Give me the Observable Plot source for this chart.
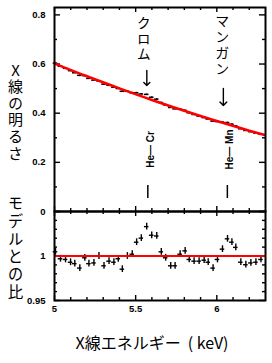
<!DOCTYPE html>
<html><head><meta charset="utf-8">
<script src="https://cdn.jsdelivr.net/npm/d3@7"></script>
<script src="https://cdn.jsdelivr.net/npm/@observablehq/plot@0.6"></script>
<style>
html,body{margin:0;padding:0;background:#fff;}
#wrap{position:relative;width:272px;height:363px;overflow:hidden;background:#fff;}
#top,#bot{position:absolute;left:0;}
#top{top:0px;} #bot{top:190px;}
</style></head><body><div id="wrap"><div id="bot"></div><div id="top"></div></div>
<script>
// ---- data ----
const energy = [5.006,5.037,5.068,5.099,5.125,5.156,5.187,5.212,5.243,5.274,5.305,5.336,5.366,5.393,5.418,5.449,5.479,5.506,5.535,5.568,5.599,5.630,5.658,5.685,5.716,5.743,5.774,5.805,5.830,5.860,5.891,5.922,5.947,5.977,6.004,6.035,6.066,6.093,6.117,6.148,6.179,6.210,6.241,6.272];
const brightness = [.6035,.5909,.5826,.5730,.5644,.5539,.5528,.5416,.5346,.5313,.5181,.5135,.5056,.5003,.4891,.4890,.4829,.4829,.4782,.4764,.4647,.4571,.4430,.4339,.4233,.4174,.4161,.4111,.4017,.3947,.3882,.3822,.3762,.3677,.3659,.3637,.3617,.3550,.3482,.3366,.3298,.3246,.3191,.3143];
const ratio = [1.0047,.9969,.9961,.9930,.9914,.9864,.9980,.9914,.9922,1.0000,.9890,.9942,.9930,.9969,.9852,1.0000,1.0020,1.0155,1.0201,1.0330,1.0233,1.0225,1.0047,.9980,.9890,.9890,1.0020,1.0058,.9961,.9942,.9942,.9953,.9930,.9864,.9961,1.0077,1.0193,1.0155,1.0097,.9930,.9902,.9922,.9930,.9961];
const ratioErr = 0.0038;
const brightErr = 0.002;
const binHalf = 0.014;
const modelEnergy = [5.0,5.2,5.4,5.6,5.8,6.0,6.2,6.29];
const modelBrightness = [.602,.550,.501,.454,.410,.368,.329,.312];
const modelRatio = [1];
const lineEnergy = [5.575, 6.065];
const lineName = ["クロム","マンガン"];
const lineIon = ["He— Cr","He— Mn"];
const topYTicks = [0,0.2,0.4,0.6,0.8];
const topYLabels = ["0","0.2","0.4","0.6","0.8"];
const topYMinor = [0.1,0.3,0.5,0.7];
const botYTicks = [0.95,1,1.05];
const botYLabelVals = [0.95,1];
const botYLabels = ["0.95","1"];
const botYMinor = [0.96,0.97,0.98,0.99,1.01,1.02,1.03,1.04];
const xTicks = [5,5.5,6];
const xLabels = ["5","5.5","6"];
const xMinor = [5.1,5.2,5.3,5.4,5.6,5.7,5.8,5.9,6.1,6.2];
const yTitleTop = "X線の明るさ";
const yTitleBot = "モデルとの比";
const xTitle = "X線エネルギー  ( keV)";

const pts = energy.map((e,i)=>({e, b: brightness[i], r: ratio[i]}));
const model = modelEnergy.map((e,i)=>({e, b: modelBrightness[i]}));

const W = 272, ML = 54, MR = 7;
const FW = W - ML - MR;
const FONT = "Liberation Sans, Arial, Helvetica, sans-serif";
const JP = "Noto Sans CJK JP, sans-serif";
const tickStyle = {stroke: "black", strokeWidth: 1.4};
const lab = {fontFamily: FONT, fontWeight: "bold", fontSize: 9.5, fill: "black"};

// vertical (tategaki) text: letter spacing per label
const verticalSpacing = new Map([[lineName[0], 1.8], [lineName[1], 2.2], [yTitleTop, 1.6], [yTitleBot, 2.2]]);
function verticalize(svg) {
  svg.querySelectorAll("text").forEach(t => {
    const s = t.textContent;
    if (verticalSpacing.has(s)) {
      t.removeAttribute("y");
      t.style.writingMode = "vertical-rl";
      t.style.textOrientation = "upright";
      t.style.letterSpacing = verticalSpacing.get(s) + "px";
    }
  });
  return svg;
}

// ---- top panel ----
const TH = 218, TMT = 7, TMB = 7, TFH = TH - TMT - TMB;
const topPlot = Plot.plot({
  width: W, height: TH, marginLeft: ML, marginRight: MR, marginTop: TMT, marginBottom: TMB,
  x: {domain: [5, 6.3], axis: null},
  y: {domain: [0, 0.83], axis: null},
  style: {background: "transparent", overflow: "visible", fontFamily: FONT},
  marks: [
    Plot.ruleY(topYTicks, {...tickStyle, insetRight: FW - 6}),
    Plot.ruleY(topYTicks, {...tickStyle, insetLeft: FW - 6}),
    Plot.ruleY(topYMinor, {...tickStyle, insetRight: FW - 3}),
    Plot.ruleY(topYMinor, {...tickStyle, insetLeft: FW - 3}),
    Plot.ruleX(xMinor, {...tickStyle, insetBottom: TFH - 3}),
    Plot.ruleX(xTicks, {...tickStyle, insetBottom: TFH - 5}),
    Plot.ruleX(xMinor, {...tickStyle, insetTop: TFH - 3}),
    Plot.ruleX(xTicks, {...tickStyle, insetTop: TFH - 5}),
    Plot.text(topYTicks, {y: d => d, text: (d,i) => topYLabels[i], frameAnchor: "left", textAnchor: "end", dx: -9, ...lab}),
    // data
    Plot.ruleY(pts, {y: "b", x1: d => d.e - binHalf, x2: d => d.e + binHalf, stroke: "black", strokeWidth: 1.5}),
    Plot.ruleX(pts, {x: "e", y1: d => d.b - brightErr, y2: d => d.b + brightErr, stroke: "black", strokeWidth: 1.5}),
    Plot.line(model, {x: "e", y: "b", stroke: "#ff0000", strokeWidth: 2.6, curve: "natural"}),
    // annotations
    Plot.text([lineName[0]], {x: lineEnergy[0], text: d => d, frameAnchor: "top", textAnchor: "start", dy: 8, dx: -4, fontFamily: JP, fontSize: 14, fill: "black"}),
    Plot.text([lineName[1]], {x: lineEnergy[1], text: d => d, frameAnchor: "top", textAnchor: "start", dy: 6, dx: -5, fontFamily: JP, fontSize: 14, fill: "black"}),
    Plot.vector([lineEnergy[0]], {x: d => d, frameAnchor: "top", dy: 63, dx: -1, length: 15, rotate: 180, anchor: "start", stroke: "black", strokeWidth: 1.4}),
    Plot.vector([lineEnergy[1]], {x: d => d, frameAnchor: "top", dy: 81, dx: -4, length: 17, rotate: 180, anchor: "start", stroke: "black", strokeWidth: 1.4}),
    Plot.text(lineEnergy, {x: d => d, text: (d,i) => lineIon[i], frameAnchor: "top", dy: 142, dx: -1, rotate: -90, ...lab, fontSize: 10}),
    Plot.ruleX(lineEnergy, {stroke: "black", strokeWidth: 1.5, insetTop: 178, insetBottom: 13}),
    Plot.text([yTitleTop], {text: d => d, frameAnchor: "top-left", textAnchor: "start", dx: -39, dy: 55, fontFamily: JP, fontSize: 15, fill: "black"}),
    Plot.frame({stroke: "black", strokeWidth: 2})
  ]
});
document.getElementById("top").appendChild(verticalize(topPlot));

// ---- bottom panel ----
const BH = 173, BMT = 21, BMB = 63, BFH = BH - BMT - BMB;
const botPlot = Plot.plot({
  width: W, height: BH, marginLeft: ML, marginRight: MR, marginTop: BMT, marginBottom: BMB,
  x: {domain: [5, 6.3], axis: null},
  y: {domain: [0.95, 1.05], axis: null},
  style: {background: "transparent", overflow: "visible", fontFamily: FONT},
  marks: [
    Plot.ruleY(botYTicks, {...tickStyle, insetRight: FW - 6}),
    Plot.ruleY(botYTicks, {...tickStyle, insetLeft: FW - 6}),
    Plot.ruleY(botYMinor, {...tickStyle, insetRight: FW - 3}),
    Plot.ruleY(botYMinor, {...tickStyle, insetLeft: FW - 3}),
    Plot.ruleX(xMinor, {...tickStyle, insetBottom: BFH - 3}),
    Plot.ruleX(xTicks, {...tickStyle, insetBottom: BFH - 5}),
    Plot.ruleX(xMinor, {...tickStyle, insetTop: BFH - 3}),
    Plot.ruleX(xTicks, {...tickStyle, insetTop: BFH - 5}),
    Plot.text(botYLabelVals, {y: d => d, text: (d,i) => botYLabels[i], frameAnchor: "left", textAnchor: "end", dx: -9, ...lab}),
    Plot.text(xTicks, {x: d => d, text: (d,i) => xLabels[i], frameAnchor: "bottom", dy: 11, ...lab}),
    Plot.ruleY(pts, {y: "r", x1: d => d.e - binHalf, x2: d => d.e + binHalf, stroke: "black", strokeWidth: 1.4}),
    Plot.ruleX(pts, {x: "e", y1: d => d.r - ratioErr, y2: d => d.r + ratioErr, stroke: "black", strokeWidth: 1.4}),
    Plot.ruleY(modelRatio, {stroke: "#ff0000", strokeWidth: 2}),
    Plot.text([yTitleBot], {text: d => d, frameAnchor: "top-left", textAnchor: "start", dx: -39, dy: -16, fontFamily: JP, fontSize: 15.5, fill: "black"}),
    Plot.text([xTitle], {text: d => d, frameAnchor: "bottom", dy: 48, dx: -8, fontFamily: JP, fontSize: 16, fill: "black"}),
    Plot.frame({stroke: "black", strokeWidth: 2})
  ]
});
document.getElementById("bot").appendChild(verticalize(botPlot));
</script></body></html>
